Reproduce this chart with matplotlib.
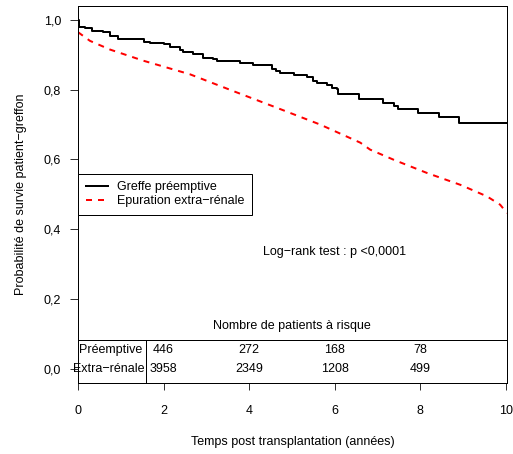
import matplotlib
matplotlib.use("Agg")
import matplotlib.pyplot as plt
from matplotlib.lines import Line2D

plt.rcParams['font.family'] = ['Liberation Sans', 'DejaVu Sans']

# Kaplan-Meier estimates
t_pre = [0, 0.03, 0.16, 0.32, 0.59, 0.75, 0.94, 1.55, 1.68, 2.0, 2.15, 2.39, 2.46,
         2.70, 2.93, 3.16, 3.24, 3.79, 4.10, 4.53, 4.62, 4.73, 5.04, 5.35, 5.50,
         5.58, 5.82, 5.95, 6.05, 6.07, 6.56, 7.14, 7.38, 7.49, 7.94, 8.44, 8.91, 10.03]
s_pre = [1.0, 0.979, 0.976, 0.969, 0.964, 0.955, 0.945, 0.938, 0.935, 0.931, 0.921,
         0.914, 0.907, 0.902, 0.892, 0.889, 0.883, 0.876, 0.872, 0.859, 0.853, 0.847,
         0.841, 0.835, 0.826, 0.820, 0.813, 0.806, 0.801, 0.787, 0.772, 0.763, 0.753,
         0.744, 0.734, 0.722, 0.703, 0.703]

t_dial = [0, 0.28, 0.75, 1.53, 2.62, 3.63, 4.65, 5.66, 6.60, 6.83, 7.38, 8.16,
          8.94, 9.56, 9.87, 10.03]
s_dial = [0.965, 0.940, 0.915, 0.883, 0.844, 0.796, 0.748, 0.700, 0.648, 0.628,
          0.599, 0.561, 0.527, 0.494, 0.470, 0.446]

# number at risk table
risk_times = [2, 4, 6, 8]
risk_pre = [446, 272, 168, 78]
risk_dial = [3958, 2349, 1208, 499]
group_labels = ['Préemptive', 'Extra\u2212rénale']

yticks = [0.0, 0.2, 0.4, 0.6, 0.8, 1.0]
xticks = [0, 2, 4, 6, 8, 10]

FS = 12.5

fig = plt.figure(figsize=(513 / 72, 454 / 72), dpi=72)
ax = fig.add_axes([78 / 513, 1 - 382.5 / 454, 429 / 513, 376.5 / 454])

ax.step(t_pre, s_pre, where='post', color='black', lw=2)
ax.plot(t_dial, s_dial, color='red', lw=2, dashes=(3, 3))

ax.set_xlim(0, 10.03)
ax.set_ylim(-0.04, 1.04)
ax.set_xticks(xticks)
ax.set_xticklabels([str(v) for v in xticks])
ax.set_yticks(yticks)
ax.set_yticklabels([f"{v:.1f}".replace('.', ',') for v in yticks])
ax.tick_params(axis='x', length=7, pad=15, labelsize=FS)
ax.tick_params(axis='y', length=8, pad=9, labelsize=FS)
for sp in ax.spines.values():
    sp.set_linewidth(1)

ax.set_xlabel('Temps post transplantation (années)', fontsize=FS, labelpad=19)
ax.set_ylabel('Probabilité de survie patient\u2212greffon', fontsize=FS, labelpad=17)

# at-risk table drawn inside the plot
ax.axhline(0.082, color='black', lw=1)
ax.plot([1.6, 1.6], [-0.04, 0.082], color='black', lw=1)
ax.text(5.0, 0.122, 'Nombre de patients à risque', ha='center', va='center', fontsize=FS)
ax.text(0.76, 0.053, group_labels[0], ha='center', va='center', fontsize=FS)
ax.text(0.72, 0.0, group_labels[1], ha='center', va='center', fontsize=FS)
for t, a, b in zip(risk_times, risk_pre, risk_dial):
    ax.text(t, 0.053, str(a), ha='center', va='center', fontsize=FS)
    ax.text(t, 0.0, str(b), ha='center', va='center', fontsize=FS)

ax.text(6.0, 0.335, 'Log\u2212rank test : p <0,0001', ha='center', va='center', fontsize=FS)

handles = [Line2D([], [], color='black', lw=2),
           Line2D([], [], color='red', lw=2, dashes=(3, 3))]
leg = ax.legend(handles, ['Greffe préemptive', 'Epuration extra\u2212rénale'],
                loc='center left', bbox_to_anchor=(0, 0.5), borderaxespad=0,
                fontsize=FS, handlelength=1.8, handletextpad=0.75, borderpad=0.6,
                labelspacing=0.15, fancybox=False, framealpha=1)
leg.get_frame().set_edgecolor('black')
leg.get_frame().set_linewidth(1)

fig.savefig('out.png', dpi=72)
